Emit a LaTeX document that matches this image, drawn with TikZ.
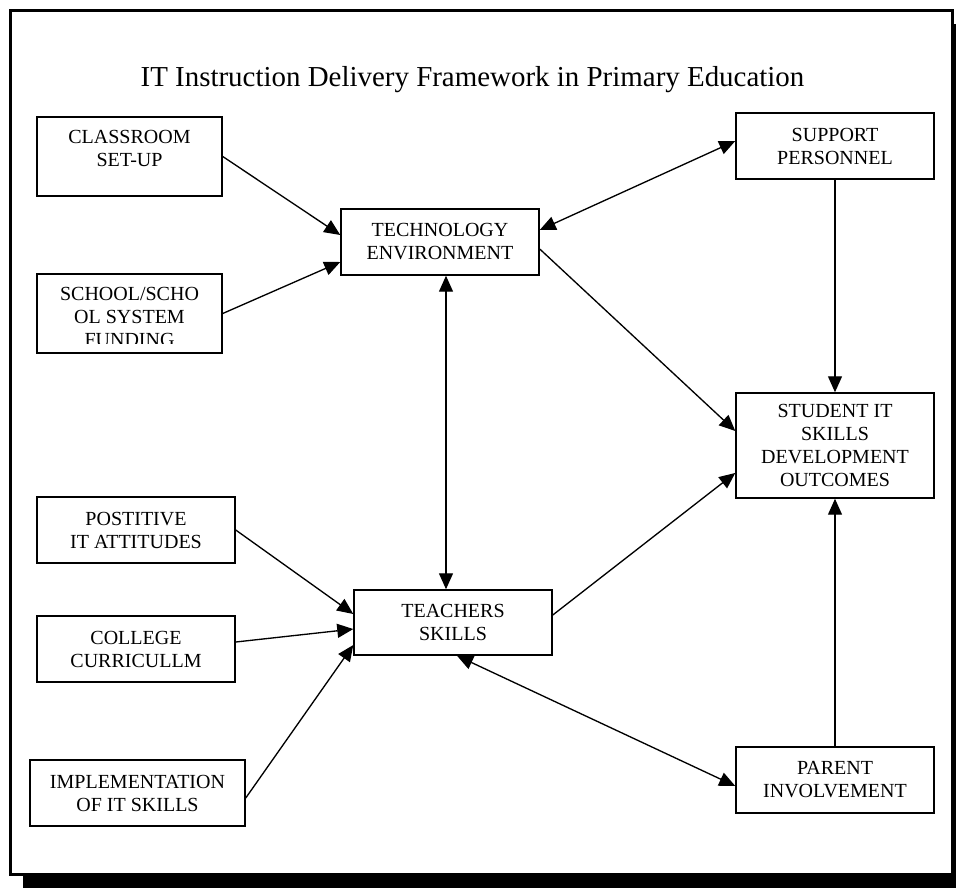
\documentclass[tikz,border=0pt]{standalone}
\usepackage{fontspec}
\setmainfont{Liberation Serif}
\usetikzlibrary{arrows.meta}

\begin{document}
\begin{tikzpicture}[x=0.75pt,y=-0.75pt,
    boxfont/.style={font=\fontsize{15}{17.25}\selectfont},
    box/.style={draw=black,line width=1.1pt,fill=white,inner sep=0pt,align=center,boxfont,
        minimum width=148.5pt,minimum height=49.5pt},
    tallbox/.style={minimum width=138.75pt,minimum height=59.25pt},
    boxtext/.style={inner sep=0pt,align=center,boxfont},
    link/.style={line width=1pt,-{Triangle[length=12pt,width=10.5pt]}},
    twoway/.style={line width=1pt,{Triangle[length=12pt,width=10.5pt]}-{Triangle[length=12pt,width=10.5pt]}}]
    \useasboundingbox (0,0) rectangle (956,888);
    \clip (0,0) rectangle (956,888);
    % frame with shadow
    \fill [black] (23,24) rectangle (970,900);
    \draw [black,line width=2.25pt,fill=white] (10.5,10.5) rectangle (952.5,874.5);
    \node [anchor=base,inner sep=0pt,font=\fontsize{21.7}{26}\selectfont] (title) at (472.5,87)
        {IT Instruction Delivery Framework in Primary Education};
    % left column
    \node [box,tallbox] (classroom) at (129.5,156.5) {};
    \node [boxtext] (classroomtext) at ([yshift=6pt]classroom.center) {CLASSROOM\\SET-UP};
    \node [box,tallbox] (school) at (129.5,313.5) {};
    \begin{scope}
        \clip (school.north west) rectangle ([yshift=7.5pt]school.south east);
        \node [boxtext] (schooltext) at ([yshift=-2.25pt]school.center) {SCHOOL/SCHO\\OL SYSTEM\\FUNDING};
    \end{scope}
    \node [box] (positive) at (136,530) {POSTITIVE\\IT ATTITUDES};
    \node [box] (college) at (136,649) {COLLEGE\\CURRICULLM};
    \node [box,minimum width=161.25pt] (implementation) at (137.5,793) {IMPLEMENTATION\\OF IT SKILLS};
    % middle and right
    \node [box] (techenv) at (440,242) {TECHNOLOGY\\ENVIRONMENT};
    \node [box,minimum height=48.75pt] (teachers) at (453,622.5) {TEACHERS\\SKILLS};
    \node [box] (support) at (835,146) {SUPPORT\\PERSONNEL};
    \node [box,minimum height=78.75pt] (student) at (835,445.5) {STUDENT IT\\SKILLS\\DEVELOPMENT\\OUTCOMES};
    \node [box] (parent) at (835,780) {PARENT\\INVOLVEMENT};
    % connectors
    \draw [link] (classroom.east) -- ([yshift=5.25pt]techenv.west);
    \draw [link] (school.east) -- ([yshift=-15pt]techenv.west);
    \draw [twoway] ([yshift=9pt]techenv.east) -- ([yshift=3.75pt]support.west);
    \draw [link] ([yshift=-5.25pt]techenv.east) -- ([yshift=10.9pt]student.west);
    \draw [link] (support.south) -- (student.north);
    \draw [twoway] ([xshift=4.5pt]techenv.south) -- ([xshift=-5.25pt]teachers.north);
    \draw [link] ([yshift=5.6pt]teachers.east) -- ([yshift=-20.6pt]student.west);
    \draw [link] (parent.north) -- (student.south);
    \draw [twoway] ([xshift=3pt]teachers.south) -- ([yshift=-4.5pt]parent.west);
    \draw [link] (positive.east) -- ([yshift=6.4pt]teachers.west);
    \draw [link] ([yshift=5.25pt]college.east) -- ([yshift=-4.9pt]teachers.west);
    \draw [link] ([yshift=-3.75pt]implementation.east) -- ([yshift=-16.9pt]teachers.west);
\end{tikzpicture}
\end{document}
